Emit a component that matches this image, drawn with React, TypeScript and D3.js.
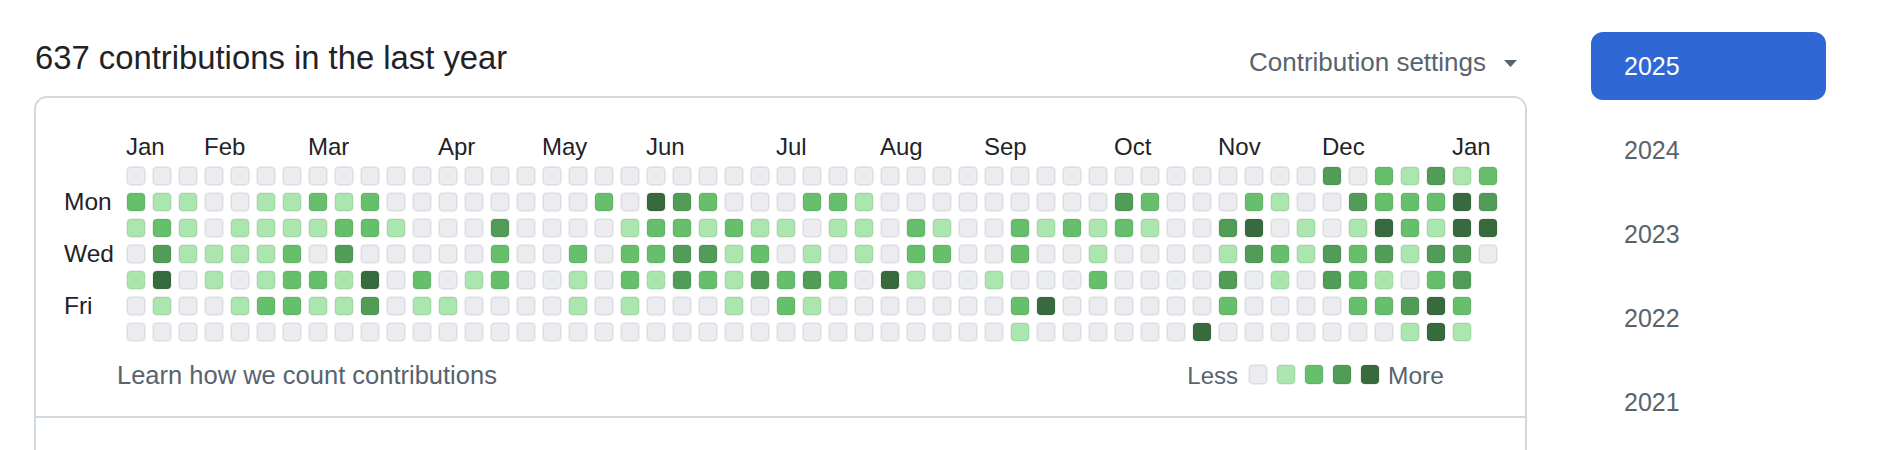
import { useEffect, useRef } from 'react';
import * as d3 from 'd3';

// contribution levels (0-4), one array per weekday, one entry per week column
const SUN = [0,0,0,0,0,0,0,0,0,0,0,0,0, 0,0,0,0,0,0,0,0,0,0,0,0,0, 0,0,0,0,0,0,0,0,0,0,0,0,0,0, 0,0,0,0,0,0,3,0,2,1,3,1,2];
const MON = [2,1,1,0,0,1,1,2,1,2,0,0,0, 0,0,0,0,0,2,0,4,3,2,0,0,0, 2,2,1,0,0,0,0,0,0,0,0,0,3,2, 0,0,0,2,1,0,0,3,2,2,2,4,3];
const TUE = [1,2,1,0,1,1,1,1,2,2,1,0,0, 0,3,0,0,0,0,1,2,2,1,2,1,1, 0,1,1,0,2,1,0,0,2,1,2,1,2,1, 0,0,3,4,0,1,0,1,4,2,1,4,4];
const WED = [0,3,1,1,1,1,2,0,3,0,0,0,0, 0,2,0,0,2,0,2,2,3,3,1,2,0, 1,0,1,0,2,2,0,0,2,0,0,1,0,0, 0,0,1,3,2,1,3,2,3,1,3,3,0];
const THU = [1,4,0,1,0,1,2,2,1,4,0,2,0, 1,2,0,0,1,0,2,1,3,2,1,3,2, 3,2,0,4,1,0,0,1,0,0,0,2,0,0, 0,0,3,0,1,0,3,2,1,0,2,3];
const FRI = [0,1,0,0,1,2,2,1,1,3,0,1,1, 0,0,0,0,1,0,1,0,0,0,1,0,2, 1,0,0,0,0,0,0,0,2,4,0,0,0,0, 0,0,2,0,0,0,0,2,2,3,4,2];
const SAT = [0,0,0,0,0,0,0,0,0,0,0,0,0, 0,0,0,0,0,0,0,0,0,0,0,0,0, 0,0,0,0,0,0,0,0,1,0,0,0,0,0, 0,4,0,0,0,0,0,0,0,1,4,1];

const MONTHS = ['Jan', 'Feb', 'Mar', 'Apr', 'May', 'Jun', 'Jul', 'Aug', 'Sep', 'Oct', 'Nov', 'Dec', 'Jan'];
const MONTH_WEEKS = [0, 3, 7, 12, 16, 20, 25, 29, 33, 38, 42, 46, 51];
const DAY_LABELS = ['', 'Mon', '', 'Wed', '', 'Fri', ''];
const YEARS = ['2025', '2024', '2023', '2022', '2021'];
const LEVELS = [0, 1, 2, 3, 4];
const TOTAL = 637;

const COLORS = ['#ebecf0', '#aae6ad', '#66bf6b', '#519c56', '#376b3e'];
const FONT = '"Liberation Sans", Arial, sans-serif';

export default function App() {
  const svgRef = useRef<SVGSVGElement>(null);

  useEffect(() => {
    if (!svgRef.current) return;
    const svg = d3.select(svgRef.current);
    svg.selectAll('*').remove();

    const days = [SUN, MON, TUE, WED, THU, FRI, SAT];
    const nWeeks = SUN.length;

    const x = d3.scaleBand<number>()
      .domain(d3.range(nWeeks))
      .range([126, 126 + nWeeks * 26 - 6])
      .paddingInner(6 / 26);
    const y = d3.scaleBand<number>()
      .domain(d3.range(7))
      .range([166, 166 + 7 * 26 - 6])
      .paddingInner(6 / 26);
    const color = d3.scaleOrdinal<number, string>().domain(LEVELS).range(COLORS);

    // title + settings
    svg.append('text')
      .attr('x', 35).attr('y', 69)
      .attr('font-size', 32.8).attr('fill', '#1f2328')
      .text(`${TOTAL} contributions in the last year`);

    svg.append('text')
      .attr('x', 1486).attr('y', 71)
      .attr('text-anchor', 'end')
      .attr('font-size', 26).attr('fill', '#59636e')
      .text('Contribution settings');
    svg.append('path')
      .attr('d', 'M1504,60 L1517,60 L1510.5,67 Z')
      .attr('fill', '#59636e');

    // box
    svg.append('path')
      .attr('d', 'M35,450 V109 A12,12 0 0 1 47,97 H1514 A12,12 0 0 1 1526,109 V450')
      .attr('fill', 'none').attr('stroke', '#d1d9e0').attr('stroke-width', 2);
    svg.append('line')
      .attr('x1', 35).attr('x2', 1526).attr('y1', 417).attr('y2', 417)
      .attr('stroke', '#d1d9e0').attr('stroke-width', 2);

    // month labels
    svg.append('g').selectAll('text')
      .data(MONTHS.map((m, i) => ({ m, w: MONTH_WEEKS[i] })))
      .enter().append('text')
      .attr('x', d => x(d.w)!)
      .attr('y', 155)
      .attr('font-size', 24).attr('fill', '#1f2328')
      .text(d => d.m);

    // day labels
    svg.append('g').selectAll('text')
      .data(DAY_LABELS.map((label, i) => ({ label, i })).filter(d => d.label))
      .enter().append('text')
      .attr('x', 64)
      .attr('y', d => y(d.i)! + y.bandwidth() / 2)
      .attr('dy', '0.33em')
      .attr('font-size', 24.5).attr('fill', '#1f2328')
      .text(d => d.label);

    // cells
    const cells = days.flatMap((row, d) => row.map((v, w) => ({ d, w, v })));
    svg.append('g').selectAll('rect')
      .data(cells)
      .enter().append('rect')
      .attr('x', c => x(c.w)! + 1)
      .attr('y', c => y(c.d)! + 1)
      .attr('width', x.bandwidth() - 2)
      .attr('height', y.bandwidth() - 2)
      .attr('rx', 4)
      .attr('fill', c => color(c.v))
      .attr('stroke', 'rgba(31,35,40,0.07)')
      .attr('stroke-width', 2);

    // footer
    svg.append('text')
      .attr('x', 117).attr('y', 384)
      .attr('font-size', 25.5).attr('fill', '#59636e')
      .text('Learn how we count contributions');

    const lx = d3.scaleBand<number>().domain(LEVELS).range([1248, 1248 + 5 * 28 - 8]).paddingInner(8 / 28);
    svg.append('text')
      .attr('x', 1238).attr('y', 384)
      .attr('text-anchor', 'end')
      .attr('font-size', 24).attr('fill', '#59636e')
      .text('Less');
    svg.append('g').selectAll('rect')
      .data(LEVELS)
      .enter().append('rect')
      .attr('x', l => lx(l)! + 1)
      .attr('y', 365)
      .attr('width', lx.bandwidth() - 2)
      .attr('height', 19)
      .attr('rx', 4)
      .attr('fill', l => color(l))
      .attr('stroke', 'rgba(31,35,40,0.07)')
      .attr('stroke-width', 2);
    svg.append('text')
      .attr('x', 1388).attr('y', 384)
      .attr('font-size', 24.5).attr('fill', '#59636e')
      .text('More');

    // year list
    const yy = d3.scalePoint<string>().domain(YEARS).range([66, 402]);
    svg.append('rect')
      .attr('x', 1591).attr('y', 32).attr('width', 235).attr('height', 68)
      .attr('rx', 12).attr('fill', '#2f68d4');
    svg.append('g').selectAll('text')
      .data(YEARS)
      .enter().append('text')
      .attr('x', 1624)
      .attr('y', d => yy(d)! + 9)
      .attr('font-size', 25)
      .attr('fill', (_d, i) => (i === 0 ? '#ffffff' : '#59636e'))
      .text(d => d);
  }, []);

  return (
    <div style={{ position: 'absolute', left: 0, top: 0 }}>
      <svg ref={svgRef} width={1888} height={450} style={{ display: 'block', fontFamily: FONT, background: '#fff' }} />
    </div>
  );
}
